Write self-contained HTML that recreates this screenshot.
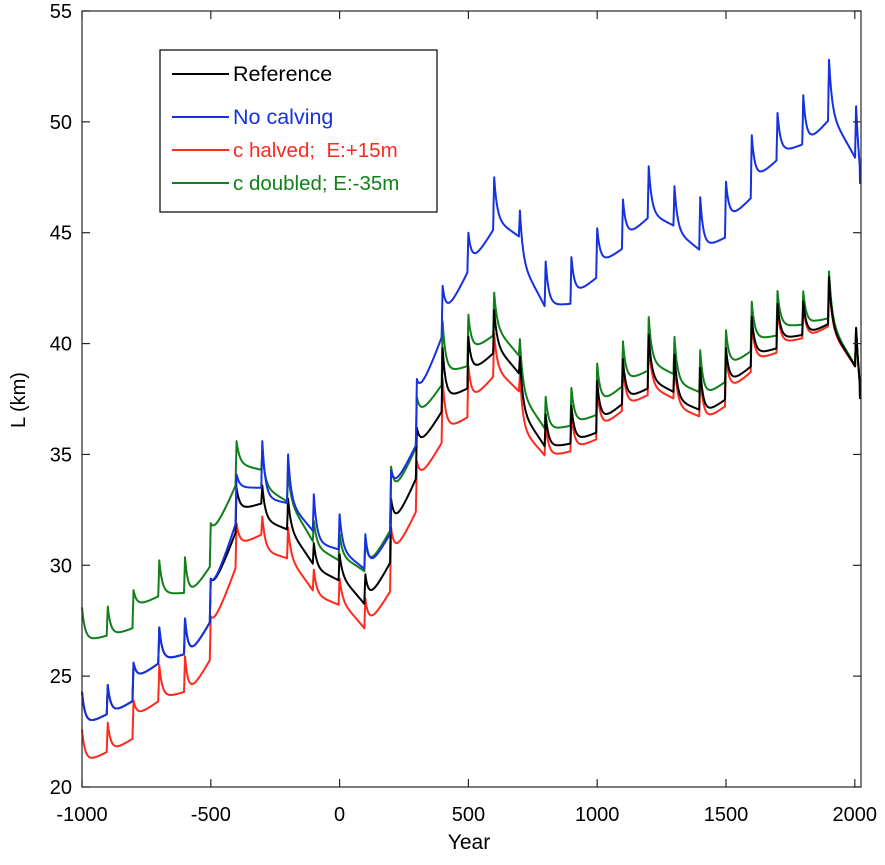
<!DOCTYPE html>
<html><head><meta charset="utf-8"><style>
body{margin:0;background:#fff;}
svg text{font-family:"Liberation Sans",Arial,sans-serif;}
</style></head><body>
<svg id="s" width="885" height="860" xmlns="http://www.w3.org/2000/svg">
<rect width="885" height="860" fill="#fff"/>
<g id="plot"></g>
<rect x="82" y="11" width="779" height="776" fill="none" stroke="#262626" stroke-width="1.2"/>
<g id="ticks" stroke="#262626" stroke-width="1.2"></g>
<g id="labels" font-size="20" fill="#000"></g>
<text x="469" y="849" font-size="21" text-anchor="middle">Year</text>
<text transform="translate(25,400) rotate(-90)" font-size="20" text-anchor="middle">L (km)</text>
<rect x="160" y="50" width="277" height="162" fill="#fff" stroke="#000" stroke-width="1.2"/>
<line x1="172" y1="74" x2="229" y2="74" stroke="#000" stroke-width="2"/>
<text x="233" y="81" font-size="21.5" fill="#000">Reference</text>
<line x1="172" y1="117" x2="229" y2="117" stroke="#1531e0" stroke-width="2"/>
<text x="233" y="124" font-size="21.5" fill="#1531e0">No calving</text>
<line x1="172" y1="150" x2="229" y2="150" stroke="#ff2a1e" stroke-width="2"/>
<text x="233" y="157" font-size="20.5" fill="#ff2a1e" xml:space="preserve">c halved;  E:+15m</text>
<line x1="172" y1="183" x2="229" y2="183" stroke="#11801a" stroke-width="2"/>
<text x="233" y="190" font-size="20.5" fill="#11801a">c doubled; E:-35m</text>
</svg>
<script>
var X=function(t){return 82+(t+1000)*128.8/500;};
var Y=function(v){return 787-(v-20)*776/35;};
var NS="http://www.w3.org/2000/svg";
function el(p,n,a,txt){var e=document.createElementNS(NS,n);for(var k in a)e.setAttribute(k,a[k]);if(txt!==undefined)e.textContent=txt;p.appendChild(e);return e;}
var tk=document.getElementById('ticks'),lb=document.getElementById('labels');
for(var t=-1000;t<=2000;t+=500){var x=X(t);el(tk,'line',{x1:x,y1:787,x2:x,y2:779});el(tk,'line',{x1:x,y1:11,x2:x,y2:19});el(lb,'text',{x:x,y:821,'text-anchor':'middle'},t);}
for(var v=20;v<=55;v+=5){var y=Y(v);el(tk,'line',{x1:82,y1:y,x2:90,y2:y});el(tk,'line',{x1:861,y1:y,x2:853,y2:y});el(lb,'text',{x:72,y:y+7,'text-anchor':'end'},v);}
var black=[[-1000,24.3,24.3,22.8],[-900,23.3,24.6,23.3],[-800,23.9,25.6,24.9],[-700,25.6,27.2,25.7],[-600,26.0,27.6,25.8],[-500,27.5,29.4,29.0],[-400,31.6,33.5,32.5],[-300,32.8,33.6,32.0],[-200,31.6,33.0,31.5],[-100,30.0,31.0,29.8],[0,29.3,30.5,29.4],[100,28.2,29.6,28.4],[200,30.2,33.0,31.8],[300,34.0,36.2,35.4],[400,37.0,39.8,37.5],[500,38.0,40.3,38.7],[600,39.6,41.5,39.8],[700,38.6,39.4,36.8],[800,35.3,36.8,35.3],[900,35.5,37.2,35.6],[1000,36.0,38.3,36.5],[1100,37.3,39.3,37.5],[1200,38.0,40.4,38.3],[1300,37.8,39.5,37.4],[1400,37.0,38.9,36.8],[1500,37.5,39.8,38.2],[1600,39.0,41.2,39.5],[1700,39.8,41.8,40.2],[1800,40.4,41.9,40.4],[1900,40.9,43.0,40.6],[2005,38.9,40.7,38.5],[2020,37.5,37.5,37.5]];
var blue=[[-1000,24.3,24.3,22.8],[-900,23.3,24.6,23.3],[-800,23.9,25.6,24.9],[-700,25.6,27.2,25.7],[-600,26.0,27.6,25.8],[-500,27.5,29.4,29.0],[-400,32.0,34.1,33.5],[-300,33.5,35.6,33.0],[-200,32.8,35.0,32.7],[-100,31.5,33.2,31.0],[0,30.7,32.3,30.6],[100,29.8,31.4,29.8],[200,31.5,34.3,33.5],[300,35.5,38.4,37.8],[400,40.4,42.6,41.3],[500,43.3,45.0,43.6],[600,45.2,47.5,45.5],[700,44.8,46.0,43.5],[800,41.6,43.7,41.7],[900,41.8,43.9,42.2],[1000,43.0,45.2,43.6],[1100,44.3,46.5,44.8],[1200,45.7,48.0,45.8],[1300,45.3,47.1,45.0],[1400,44.2,46.6,44.3],[1500,44.8,47.3,45.6],[1600,46.6,49.4,47.4],[1700,48.3,50.4,48.6],[1800,49.0,51.2,49.0],[1900,50.1,52.8,50.2],[2005,48.3,50.7,48.3],[2020,47.2,47.2,47.2]];
function val(list,t){for(var i=0;i<list.length-1;i++){var a=list[i],b=list[i+1];if(t>=a[0]&&t<b[0]){var f=(t-a[0])/(b[0]-a[0]);var e=Math.exp(-(t-a[0])/12);var base=a[3]+(b[1]-a[3])*Math.pow(f,1.2);var v=base+(a[2]-a[3])*e;var R=4;if(b[0]-t<R&&i+1<list.length-1){v+=(b[2]-b[1])*(1-(b[0]-t)/R);}return v;}}var l=list[list.length-1];return l[1];}
function interp(pts,t){for(var i=0;i<pts.length-1;i++){if(t>=pts[i][0]&&t<=pts[i+1][0]){var f=(t-pts[i][0])/(pts[i+1][0]-pts[i][0]);return pts[i][1]+(pts[i+1][1]-pts[i][1])*f;}}return pts[pts.length-1][1];}
var gOff=[[-1000,3.8],[-500,2.5],[-400,2.1],[-300,1.5],[-100,1.0],[0,0.9],[100,1.5],[300,1.4],[400,1.2],[600,0.8],[1500,0.8],[1850,0.4],[1950,0.1],[2020,0]];
var rOff=[[-1000,-1.7],[-500,-1.7],[-400,-1.6],[-300,-1.4],[0,-1.1],[100,-1.1],[200,-1.3],[300,-1.5],[500,-1.3],[700,-0.8],[800,-0.4],[1000,-0.3],[1500,-0.3],[1900,-0.1],[2020,0]];
function path(fn,col){var d='';for(var t=-1000;t<=2020;t+=1){var v=fn(t);d+=(t==-1000?'M':'L')+X(t).toFixed(1)+','+Y(v).toFixed(1);}el(document.getElementById('plot'),'path',{d:d,fill:'none',stroke:col,'stroke-width':2,'stroke-linejoin':'round'});}
path(function(t){return val(black,t)+interp(rOff,t);},'#ff2a1e');
path(function(t){return val(black,t)+interp(gOff,t);},'#11801a');
path(function(t){return val(black,t);},'#000');
path(function(t){return val(blue,t);},'#1531e0');
</script>
</body></html>
